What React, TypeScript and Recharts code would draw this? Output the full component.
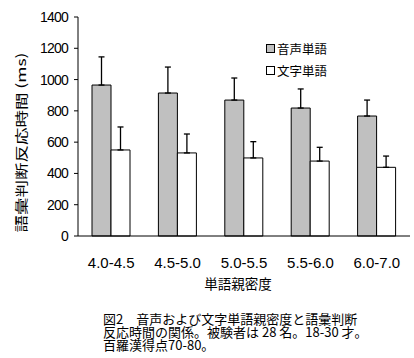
import React from 'react';
import { BarChart, Bar, XAxis, YAxis, ErrorBar, Legend, Label } from 'recharts';

const categories = ['4.0-4.5', '4.5-5.0', '5.0-5.5', '5.5-6.0', '6.0-7.0'];
const audioValues = [965, 914, 869, 818, 767];
const audioErrors = [180, 166, 141, 122, 102];
const textValues = [550, 531, 499, 479, 439];
const textErrors = [147, 121, 104, 88, 72];
const yTicks = [0, 200, 400, 600, 800, 1000, 1200, 1400];
const edgeTicks = [0, 1, 2, 3, 4, 5];

const seriesNames = ['音声単語', '文字単語'];
const yLabel = '語彙判断反応時間 (ms)';
const xLabel = '単語親密度';
const captionLines = [
  '図2　音声および文字単語親密度と語彙判断',
  '反応時間の関係。被験者は 28 名。18-30 才。',
  '百羅漢得点70-80。',
];

const data = categories.map((c, i) => ({
  cat: c,
  audio: audioValues[i],
  audioErr: [0, audioErrors[i]],
  text: textValues[i],
  textErr: [0, textErrors[i]],
}));

const CJK = '"Noto Sans CJK JP", "Noto Sans", sans-serif';
const LAT = '"Liberation Sans", Arial, sans-serif';

const LegendContent = () => (
  <div style={{ fontFamily: CJK, fontSize: 12.5, color: '#000' }}>
    {seriesNames.map((n, i) => (
      <div key={n} style={{ display: 'flex', alignItems: 'center', height: 22 }}>
        <span
          style={{
            display: 'inline-block',
            width: 7,
            height: 7,
            border: '1px solid #000',
            background: i === 0 ? '#C0C0C0' : '#FFFFFF',
            marginRight: 2,
          }}
        />
        <span>{n}</span>
      </div>
    ))}
  </div>
);

export default function App() {
  return (
    <div style={{ position: 'absolute', left: 0, top: 0, width: 414, height: 358, background: '#fff' }}>
      <BarChart
        width={414}
        height={358}
        data={data}
        margin={{ top: 17, right: 4, bottom: 0, left: 0 }}
        barGap={0}
        barSize={19}
      >
        <YAxis
          domain={[0, 1400]}
          ticks={yTicks}
          width={78}
          tickSize={4}
          tickMargin={6}
          stroke="#000"
          axisLine={{ stroke: '#000', strokeWidth: 1 }}
          tickLine={{ stroke: '#000' }}
          tick={{ fill: '#000', fontSize: 14, fontFamily: LAT, letterSpacing: -0.8 }}
          interval={0}
        >
          <Label
            content={(props: any) => {
              const vb = props.viewBox || { x: 0, y: 17, width: 78, height: 219 };
              const cx = vb.x + 20;
              const cy = vb.y + vb.height / 2 + 16;
              return (
                <text
                  x={cx}
                  y={cy}
                  transform={`rotate(-90 ${cx} ${cy})`}
                  textAnchor="middle"
                  dominantBaseline="central"
                  fontFamily={CJK}
                  fontSize={13}
                  textLength={180}
                  lengthAdjust="spacingAndGlyphs"
                  fill="#000"
                >
                  {yLabel}
                </text>
              );
            }}
          />
        </YAxis>
        <XAxis
          xAxisId="cat"
          dataKey="cat"
          height={122}
          tickLine={false}
          tickSize={0}
          tickMargin={21}
          axisLine={{ stroke: '#000', strokeWidth: 1 }}
          tick={{ fill: '#000', fontSize: 15, fontFamily: LAT }}
          interval={0}
        >
          <Label
            content={(props: any) => {
              const vb = props.viewBox || { x: 78, y: 236, width: 332, height: 122 };
              return (
                <text
                  x={vb.x + vb.width / 2 - 6}
                  y={vb.y + 53}
                  textAnchor="middle"
                  fontFamily={CJK}
                  fontSize={13.5}
                  fill="#000"
                >
                  {xLabel}
                </text>
              );
            }}
          />
        </XAxis>
        <XAxis
          xAxisId="edges"
          type="number"
          domain={[0, 5]}
          ticks={edgeTicks}
          mirror
          height={0}
          axisLine={false}
          tick={false}
          tickSize={4}
          tickLine={{ stroke: '#000' }}
          allowDataOverflow
        />
        <Legend
          layout="vertical"
          align="center"
          verticalAlign="middle"
          content={<LegendContent />}
          wrapperStyle={{ position: 'absolute', left: 266, top: 37, width: 'auto', height: 'auto' }}
        />
        <Bar
          xAxisId="cat"
          dataKey="audio"
          name={seriesNames[0]}
          fill="#C0C0C0"
          stroke="#000"
          strokeWidth={1}
          isAnimationActive={false}
        >
          <ErrorBar dataKey="audioErr" direction="y" width={3} stroke="#000" strokeWidth={1.3} />
        </Bar>
        <Bar
          xAxisId="cat"
          dataKey="text"
          name={seriesNames[1]}
          fill="#FFFFFF"
          stroke="#000"
          strokeWidth={1}
          isAnimationActive={false}
        >
          <ErrorBar dataKey="textErr" direction="y" width={3} stroke="#000" strokeWidth={1.3} />
        </Bar>
      </BarChart>
      <div
        style={{
          position: 'absolute',
          left: 103,
          top: 312,
          fontFamily: CJK,
          fontSize: 13,
          lineHeight: '13px',
          color: '#000',
          whiteSpace: 'pre',
        }}
      >
        {captionLines.map((l) => (
          <div key={l}>{l}</div>
        ))}
      </div>
    </div>
  );
}
